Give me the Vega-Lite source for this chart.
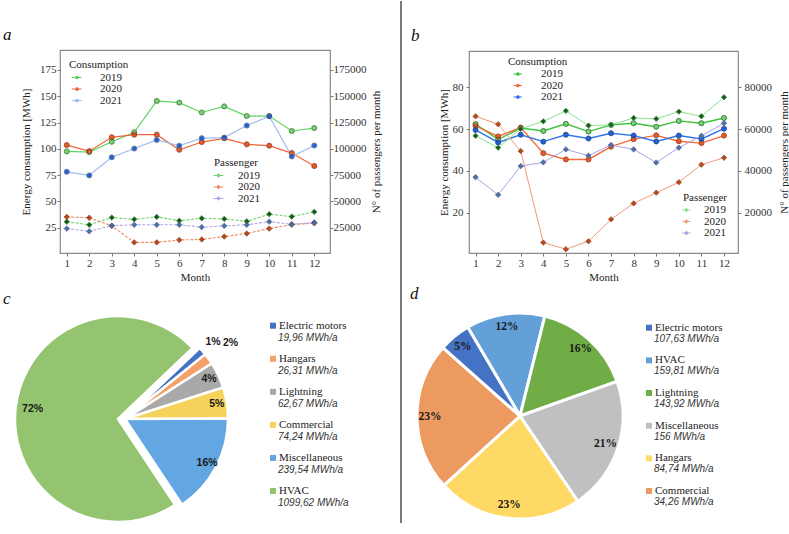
{
  "$schema": "https://vega.github.io/schema/vega-lite/v6.json",
  "background": "white",
  "padding": {"left": 2, "top": 0, "right": 0, "bottom": 0},
  "config": {
    "view": {"stroke": null},
    "font": "Liberation Serif",
    "axis": {"labelFont": "Liberation Serif", "labelFontSize": 11, "labelColor": "#333", "titleFont": "Liberation Serif", "titleFontSize": 11, "titleFontWeight": "normal", "titleColor": "#222", "domain": false, "grid": false, "tickColor": "#777", "tickSize": 3},
    "legend": {"titleFont": "Liberation Serif", "titleFontSize": 11, "titleFontWeight": "normal", "titleColor": "#222", "labelFont": "Liberation Serif", "labelFontSize": 11, "labelColor": "#222", "padding": 0, "rowPadding": -0.5, "titlePadding": 2, "symbolSize": 64, "symbolStrokeWidth": 1.1},
    "title": {"font": "Liberation Serif", "fontSize": 17, "fontStyle": "italic", "fontWeight": "normal", "color": "#111", "anchor": "start", "frame": "group"}
  },
  "datasets": {
    "consA": [
      {"month":1,"year":"2019","mwh":97.6},{"month":2,"year":"2019","mwh":97.0},{"month":3,"year":"2019","mwh":106.8},{"month":4,"year":"2019","mwh":115.8},{"month":5,"year":"2019","mwh":145.6},{"month":6,"year":"2019","mwh":144.0},{"month":7,"year":"2019","mwh":134.6},{"month":8,"year":"2019","mwh":140.4},{"month":9,"year":"2019","mwh":131.2},{"month":10,"year":"2019","mwh":131.2},{"month":11,"year":"2019","mwh":117.0},{"month":12,"year":"2019","mwh":119.8},
      {"month":1,"year":"2020","mwh":103.6},{"month":2,"year":"2020","mwh":97.8},{"month":3,"year":"2020","mwh":111.0},{"month":4,"year":"2020","mwh":113.5},{"month":5,"year":"2020","mwh":113.5},{"month":6,"year":"2020","mwh":99.2},{"month":7,"year":"2020","mwh":106.5},{"month":8,"year":"2020","mwh":110.0},{"month":9,"year":"2020","mwh":104.3},{"month":10,"year":"2020","mwh":103.0},{"month":11,"year":"2020","mwh":96.0},{"month":12,"year":"2020","mwh":83.7},
      {"month":1,"year":"2021","mwh":78.2},{"month":2,"year":"2021","mwh":74.8},{"month":3,"year":"2021","mwh":92.0},{"month":4,"year":"2021","mwh":100.3},{"month":5,"year":"2021","mwh":108.5},{"month":6,"year":"2021","mwh":103.0},{"month":7,"year":"2021","mwh":110.2},{"month":8,"year":"2021","mwh":110.7},{"month":9,"year":"2021","mwh":122.2},{"month":10,"year":"2021","mwh":131.0},{"month":11,"year":"2021","mwh":92.8},{"month":12,"year":"2021","mwh":103.2}
    ],
    "passA": [
      {"month":1,"year":"2019","pax":30700},{"month":2,"year":"2019","pax":27800},{"month":3,"year":"2019","pax":34700},{"month":4,"year":"2019","pax":33000},{"month":5,"year":"2019","pax":35300},{"month":6,"year":"2019","pax":31700},{"month":7,"year":"2019","pax":34000},{"month":8,"year":"2019","pax":33400},{"month":9,"year":"2019","pax":31100},{"month":10,"year":"2019","pax":37900},{"month":11,"year":"2019","pax":35600},{"month":12,"year":"2019","pax":40100},
      {"month":1,"year":"2020","pax":35300},{"month":2,"year":"2020","pax":34500},{"month":3,"year":"2020","pax":26800},{"month":4,"year":"2020","pax":11100},{"month":5,"year":"2020","pax":11100},{"month":6,"year":"2020","pax":13400},{"month":7,"year":"2020","pax":13900},{"month":8,"year":"2020","pax":16600},{"month":9,"year":"2020","pax":19500},{"month":10,"year":"2020","pax":24200},{"month":11,"year":"2020","pax":28000},{"month":12,"year":"2020","pax":29300},
      {"month":1,"year":"2021","pax":24200},{"month":2,"year":"2021","pax":21600},{"month":3,"year":"2021","pax":27000},{"month":4,"year":"2021","pax":27800},{"month":5,"year":"2021","pax":27800},{"month":6,"year":"2021","pax":27800},{"month":7,"year":"2021","pax":25600},{"month":8,"year":"2021","pax":26800},{"month":9,"year":"2021","pax":27800},{"month":10,"year":"2021","pax":30800},{"month":11,"year":"2021","pax":28300},{"month":12,"year":"2021","pax":30000}
    ],
    "consB": [
      {"month":1,"year":"2019","mwh":62.4},{"month":2,"year":"2019","mwh":55.0},{"month":3,"year":"2019","mwh":60.5},{"month":4,"year":"2019","mwh":59.1},{"month":5,"year":"2019","mwh":62.5},{"month":6,"year":"2019","mwh":58.8},{"month":7,"year":"2019","mwh":62.0},{"month":8,"year":"2019","mwh":62.8},{"month":9,"year":"2019","mwh":61.1},{"month":10,"year":"2019","mwh":63.9},{"month":11,"year":"2019","mwh":62.8},{"month":12,"year":"2019","mwh":65.3},
      {"month":1,"year":"2020","mwh":61.5},{"month":2,"year":"2020","mwh":56.5},{"month":3,"year":"2020","mwh":60.7},{"month":4,"year":"2020","mwh":48.5},{"month":5,"year":"2020","mwh":45.5},{"month":6,"year":"2020","mwh":45.5},{"month":7,"year":"2020","mwh":51.6},{"month":8,"year":"2020","mwh":55.2},{"month":9,"year":"2020","mwh":57.0},{"month":10,"year":"2020","mwh":54.2},{"month":11,"year":"2020","mwh":53.3},{"month":12,"year":"2020","mwh":56.9},
      {"month":1,"year":"2021","mwh":59.6},{"month":2,"year":"2021","mwh":53.6},{"month":3,"year":"2021","mwh":57.3},{"month":4,"year":"2021","mwh":54.0},{"month":5,"year":"2021","mwh":57.3},{"month":6,"year":"2021","mwh":55.5},{"month":7,"year":"2021","mwh":58.0},{"month":8,"year":"2021","mwh":56.9},{"month":9,"year":"2021","mwh":54.1},{"month":10,"year":"2021","mwh":56.9},{"month":11,"year":"2021","mwh":55.3},{"month":12,"year":"2021","mwh":60.2}
    ],
    "passB": [
      {"month":1,"year":"2019","pax":56800},{"month":2,"year":"2019","pax":51100},{"month":3,"year":"2019","pax":60100},{"month":4,"year":"2019","pax":63700},{"month":5,"year":"2019","pax":68700},{"month":6,"year":"2019","pax":61700},{"month":7,"year":"2019","pax":62000},{"month":8,"year":"2019","pax":65300},{"month":9,"year":"2019","pax":64900},{"month":10,"year":"2019","pax":68300},{"month":11,"year":"2019","pax":66100},{"month":12,"year":"2019","pax":75200},
      {"month":1,"year":"2020","pax":66100},{"month":2,"year":"2020","pax":62300},{"month":3,"year":"2020","pax":49500},{"month":4,"year":"2020","pax":5800},{"month":5,"year":"2020","pax":2600},{"month":6,"year":"2020","pax":6400},{"month":7,"year":"2020","pax":16900},{"month":8,"year":"2020","pax":24500},{"month":9,"year":"2020","pax":29600},{"month":10,"year":"2020","pax":34600},{"month":11,"year":"2020","pax":43000},{"month":12,"year":"2020","pax":46300},
      {"month":1,"year":"2021","pax":37000},{"month":2,"year":"2021","pax":28600},{"month":3,"year":"2021","pax":42300},{"month":4,"year":"2021","pax":44100},{"month":5,"year":"2021","pax":50300},{"month":6,"year":"2021","pax":47300},{"month":7,"year":"2021","pax":52400},{"month":8,"year":"2021","pax":50300},{"month":9,"year":"2021","pax":44000},{"month":10,"year":"2021","pax":51100},{"month":11,"year":"2021","pax":56800},{"month":12,"year":"2021","pax":62800}
    ],
    "pieC": [
      {"k":1,"category":"Electric motors","value":19.96,"pct":"1%"},
      {"k":2,"category":"Hangars","value":26.31,"pct":"2%"},
      {"k":3,"category":"Lightning","value":62.67,"pct":"4%"},
      {"k":4,"category":"Commercial","value":74.24,"pct":"5%"},
      {"k":5,"category":"Miscellaneous","value":239.54,"pct":"16%"},
      {"k":6,"category":"HVAC","value":1099.62,"pct":"72%"}
    ],
    "legC": [
      {"name":"Electric motors","amount":"19,96 MWh/a"},
      {"name":"Hangars","amount":"26,31 MWh/a"},
      {"name":"Lightning","amount":"62,67 MWh/a"},
      {"name":"Commercial","amount":"74,24 MWh/a"},
      {"name":"Miscellaneous","amount":"239,54 MWh/a"},
      {"name":"HVAC","amount":"1099,62 MWh/a"}
    ],
    "pieD": [
      {"k":1,"category":"HVAC","value":84.74,"pct":"12%"},
      {"k":2,"category":"Lightning","value":107.63,"pct":"16%"},
      {"k":3,"category":"Miscellaneous","value":143.92,"pct":"21%"},
      {"k":4,"category":"Hangars","value":156,"pct":"23%"},
      {"k":5,"category":"Commercial","value":159.81,"pct":"23%"},
      {"k":6,"category":"Electric motors","value":34.26,"pct":"5%"}
    ],
    "legD": [
      {"name":"Electric motors","amount":"107,63 MWh/a"},
      {"name":"HVAC","amount":"159,81 MWh/a"},
      {"name":"Lightning","amount":"143,92 MWh/a"},
      {"name":"Miscellaneous","amount":"156 MWh/a"},
      {"name":"Hangars","amount":"84,74 MWh/a"},
      {"name":"Commercial","amount":"34,26 MWh/a"}
    ]
  },
  "hconcat": [
    {
      "vconcat": [
        {"width": 1, "height": 49, "data": {"values": []}, "mark": "point"},
        {
          "vconcat": [
            {
              "width": 270, "height": 203,
              "view": {"stroke": "#8a8a8a", "strokeWidth": 1.2},
              "title": {"text": "a", "dx": -57, "offset": 6},
              "layer": [
                {
                  "data": {"name": "consA"},
                  "encoding": {
                    "x": {"field": "month", "type": "quantitative", "scale": {"domain": [0.7, 12.7], "nice": false, "zero": false}, "axis": {"values": [1,2,3,4,5,6,7,8,9,10,11,12], "title": "Month", "labelPadding": 1, "titlePadding": 3, "labelFlush": false}},
                    "y": {"field": "mwh", "type": "quantitative", "scale": {"domain": [1, 194], "nice": false, "zero": false}, "axis": {"orient": "left", "values": [25,50,75,100,125,150,175], "title": "Energy consumption [MWh]", "labelPadding": 1, "titlePadding": 8}}
                  },
                  "layer": [
                    {"mark": {"type": "line", "strokeWidth": 1.2}, "encoding": {"stroke": {"field": "year", "type": "nominal", "scale": {"domain": ["2019","2020","2021"], "range": ["#5fd35f","#f0643c","#9bbcf0"]}, "legend": {"title": "Consumption", "orient": "none", "legendX": 9, "legendY": 9, "symbolType": "M-0.625,0H1.75M0.95,0A0.325,0.325,0,1,1,0.3,0A0.325,0.325,0,1,1,0.95,0Z", "labelOffset": 20}}}},
                    {"mark": {"type": "point", "filled": true, "size": 25, "strokeWidth": 0.8, "opacity": 1}, "encoding": {
                      "fill": {"field": "year", "type": "nominal", "scale": {"domain": ["2019","2020","2021"], "range": ["#7ccf7c","#ea5a22","#2060d8"]}, "legend": {"title": "Consumption", "orient": "none", "legendX": 9, "legendY": 9, "symbolType": "M-0.625,0H1.75M0.95,0A0.325,0.325,0,1,1,0.3,0A0.325,0.325,0,1,1,0.95,0Z", "labelOffset": 20}},
                      "stroke": {"field": "year", "type": "nominal", "scale": {"domain": ["2019","2020","2021"], "range": ["#5fd35f","#f0643c","#9bbcf0"]}, "legend": {"title": "Consumption", "orient": "none", "legendX": 9, "legendY": 9, "symbolType": "M-0.625,0H1.75M0.95,0A0.325,0.325,0,1,1,0.3,0A0.325,0.325,0,1,1,0.95,0Z", "labelOffset": 20}}
                    }},
                    {"mark": {"type": "point", "filled": false, "size": 25, "stroke": "#2a2a2a", "strokeWidth": 0.5, "opacity": 0.8}}
                  ]
                },
                {
                  "data": {"name": "passA"},
                  "encoding": {
                    "x": {"field": "month", "type": "quantitative", "scale": {"domain": [0.7, 12.7], "nice": false, "zero": false}, "axis": {"values": [1,2,3,4,5,6,7,8,9,10,11,12], "title": "Month", "labelPadding": 1, "titlePadding": 3, "labelFlush": false}},
                    "y": {"field": "pax", "type": "quantitative", "scale": {"domain": [1000, 194000], "nice": false, "zero": false}, "axis": {"orient": "right", "values": [25000,50000,75000,100000,125000,150000,175000], "format": "d", "title": "N° of passengers per month", "titleAngle": -90, "labelPadding": 0, "titlePadding": 15}}
                  },
                  "layer": [
                    {"mark": {"type": "line", "strokeWidth": 1.1, "strokeDash": [3, 1.5]}, "encoding": {"stroke": {"field": "year", "type": "nominal", "scale": {"domain": ["2019","2020","2021"], "range": ["#74d474","#ee8a60","#b0a8e8"]}, "legend": {"title": "Passenger", "orient": "none", "legendX": 154, "legendY": 107, "symbolType": "M-1.5,0H1M-0.25,-0.375L0.125,0L-0.25,0.375L-0.625,0Z", "labelOffset": 13}}}},
                    {"mark": {"type": "point", "filled": true, "size": 28, "shape": "diamond", "strokeWidth": 0.8, "opacity": 1}, "encoding": {
                      "fill": {"field": "year", "type": "nominal", "scale": {"domain": ["2019","2020","2021"], "range": ["#0c5a0c","#c2410c","#3a76b0"]}, "legend": {"title": "Passenger", "orient": "none", "legendX": 154, "legendY": 107, "symbolType": "M-1.5,0H1M-0.25,-0.375L0.125,0L-0.25,0.375L-0.625,0Z", "labelOffset": 13}},
                      "stroke": {"field": "year", "type": "nominal", "scale": {"domain": ["2019","2020","2021"], "range": ["#74d474","#ee8a60","#b0a8e8"]}, "legend": {"title": "Passenger", "orient": "none", "legendX": 154, "legendY": 107, "symbolType": "M-1.5,0H1M-0.25,-0.375L0.125,0L-0.25,0.375L-0.625,0Z", "labelOffset": 13}}
                    }},
                    {"mark": {"type": "point", "filled": false, "shape": "diamond", "size": 28, "stroke": "#1a1a1a", "strokeWidth": 0.5, "opacity": 0.8}}
                  ]
                }
              ],
              "resolve": {"scale": {"y": "independent", "fill": "independent", "stroke": "independent"}}
            },
            {
              "hconcat": [
                {
                  "width": 130, "height": 204,
                  "title": {"text": "c", "dx": -57, "offset": 3},
                  "data": {"name": "pieC"},
                  "encoding": {
                    "theta": {"field": "value", "type": "quantitative", "stack": true, "scale": {"range": [0.81, 7.093]}},
                    "order": {"field": "k", "type": "quantitative"},
                    "color": {"field": "category", "type": "nominal", "scale": {"domain": ["Electric motors","Hangars","Lightning","Commercial","Miscellaneous","HVAC"], "range": ["#4472c4","#f4a06a","#a9a9a9","#f5d35a","#62a6e2","#94c46f"]}, "legend": null}
                  },
                  "layer": [
                    {"mark": {"type": "arc", "outerRadius": 103, "stroke": "white", "strokeWidth": 2.5}, "encoding": {"opacity": {"condition": {"test": "datum.k == 6", "value": 0}, "value": 1}}},
                    {"mark": {"type": "arc", "outerRadius": 103, "stroke": "white", "strokeWidth": 2.5, "xOffset": -7}, "encoding": {"opacity": {"condition": {"test": "datum.k == 6", "value": 1}, "value": 0}}},
                    {"mark": {"type": "text", "radius": 93, "font": "Liberation Sans", "fontWeight": "bold", "fontSize": 10.5}, "encoding": {"text": {"field": "pct"}, "color": {"value": "#1a1a1a"}, "opacity": {"condition": {"test": "datum.k >= 3", "value": 1}, "value": 0}}},
                    {"transform": [{"filter": "datum.k == 1"}], "mark": {"type": "text", "radius": 117, "font": "Liberation Sans", "fontWeight": "bold", "fontSize": 10.5}, "encoding": {"text": {"field": "pct"}, "color": {"value": "#1a1a1a"}}},
                    {"transform": [{"filter": "datum.k <= 2"}], "mark": {"type": "text", "radius": 130, "font": "Liberation Sans", "fontWeight": "bold", "fontSize": 10.5}, "encoding": {"text": {"field": "pct"}, "color": {"value": "#1a1a1a"}, "opacity": {"condition": {"test": "datum.k == 2", "value": 1}, "value": 0}}}
                  ]
                },
                {
                  "width": 1, "height": 182.7,
                  "data": {"name": "legC"},
                  "encoding": {"y": {"field": "name", "type": "nominal", "sort": null, "scale": {"type": "point", "padding": 0.263}, "axis": null}},
                  "layer": [
                    {"mark": {"type": "square", "size": 36, "opacity": 1, "filled": true}, "encoding": {"color": {"field": "name", "type": "nominal", "scale": {"domain": ["Electric motors","Hangars","Lightning","Commercial","Miscellaneous","HVAC"], "range": ["#4472c4","#f4a06a","#a9a9a9","#f5d35a","#62a6e2","#94c46f"]}, "legend": null}}},
                    {"mark": {"type": "text", "align": "left", "baseline": "middle", "dx": 6, "font": "Liberation Serif", "fontSize": 11, "color": "#222"}, "encoding": {"text": {"field": "name"}}},
                    {"mark": {"type": "text", "align": "left", "baseline": "middle", "dx": 5, "dy": 12, "font": "Liberation Sans", "fontStyle": "italic", "fontSize": 10, "color": "#333"}, "encoding": {"text": {"field": "amount"}}}
                  ]
                }
              ],
              "spacing": 82.5, "bounds": "flush",
              "resolve": {"scale": {"color": "independent", "fill": "independent", "stroke": "independent"}}
            }
          ],
          "spacing": 64, "bounds": "flush",
          "resolve": {"scale": {"color": "independent", "fill": "independent", "stroke": "independent"}}
        }
      ],
      "spacing": 0, "bounds": "flush",
      "resolve": {"scale": {"color": "independent", "fill": "independent", "stroke": "independent"}}
    },
    {
      "width": 280, "height": 522,
      "data": {"values": [{"k": "divider"}]},
      "mark": {"type": "rule", "color": "#222", "strokeWidth": 1.2},
      "encoding": {"x": {"field": "k", "type": "nominal", "axis": null, "scale": {"type": "point", "padding": 0, "align": 0.9875}}}
    },
    {
      "vconcat": [
        {"width": 1, "height": 50, "data": {"values": []}, "mark": "point"},
        {
          "vconcat": [
            {
              "width": 269, "height": 202,
              "view": {"stroke": "#8a8a8a", "strokeWidth": 1.2},
              "title": {"text": "b", "dx": -58, "offset": 6},
              "layer": [
                {
                  "data": {"name": "consB"},
                  "encoding": {
                    "x": {"field": "month", "type": "quantitative", "scale": {"domain": [0.71, 12.62], "nice": false, "zero": false}, "axis": {"values": [1,2,3,4,5,6,7,8,9,10,11,12], "title": "Month", "labelPadding": 1, "titlePadding": 3, "labelFlush": false}},
                    "y": {"field": "mwh", "type": "quantitative", "scale": {"domain": [0.8, 97.3], "nice": false, "zero": false}, "axis": {"orient": "left", "values": [20,40,60,80], "title": "Energy consumption [MWh]", "labelPadding": 3, "titlePadding": 3}}
                  },
                  "layer": [
                    {"mark": {"type": "line", "strokeWidth": 1.4}, "encoding": {"stroke": {"field": "year", "type": "nominal", "scale": {"domain": ["2019","2020","2021"], "range": ["#3cc43c","#f26b3a","#2f74e8"]}, "legend": {"title": "Consumption", "orient": "none", "legendX": 39, "legendY": 4.5, "symbolType": "M0,0H2.1M1.425,0A0.325,0.325,0,1,1,0.775,0A0.325,0.325,0,1,1,1.425,0Z", "labelOffset": 22}}}},
                    {"mark": {"type": "point", "filled": true, "size": 25, "strokeWidth": 0.8, "opacity": 1}, "encoding": {
                      "fill": {"field": "year", "type": "nominal", "scale": {"domain": ["2019","2020","2021"], "range": ["#7ccf7c","#ea5a22","#2060d8"]}, "legend": {"title": "Consumption", "orient": "none", "legendX": 39, "legendY": 4.5, "symbolType": "M0,0H2.1M1.425,0A0.325,0.325,0,1,1,0.775,0A0.325,0.325,0,1,1,1.425,0Z", "labelOffset": 22}},
                      "stroke": {"field": "year", "type": "nominal", "scale": {"domain": ["2019","2020","2021"], "range": ["#3cc43c","#f26b3a","#2f74e8"]}, "legend": {"title": "Consumption", "orient": "none", "legendX": 39, "legendY": 4.5, "symbolType": "M0,0H2.1M1.425,0A0.325,0.325,0,1,1,0.775,0A0.325,0.325,0,1,1,1.425,0Z", "labelOffset": 22}}
                    }},
                    {"mark": {"type": "point", "filled": false, "size": 25, "stroke": "#2a2a2a", "strokeWidth": 0.5, "opacity": 0.8}}
                  ]
                },
                {
                  "data": {"name": "passB"},
                  "encoding": {
                    "x": {"field": "month", "type": "quantitative", "scale": {"domain": [0.71, 12.62], "nice": false, "zero": false}, "axis": {"values": [1,2,3,4,5,6,7,8,9,10,11,12], "title": "Month", "labelPadding": 1, "titlePadding": 3, "labelFlush": false}},
                    "y": {"field": "pax", "type": "quantitative", "scale": {"domain": [800, 97300], "nice": false, "zero": false}, "axis": {"orient": "right", "values": [20000,40000,60000,80000], "format": "d", "title": "N° of passengers per month", "titleAngle": -90, "labelPadding": 3, "titlePadding": 18}}
                  },
                  "layer": [
                    {"mark": {"type": "line", "strokeWidth": 1}, "encoding": {"stroke": {"field": "year", "type": "nominal", "scale": {"domain": ["2019","2020","2021"], "range": ["#8be38b","#f09a78","#a9a3e3"]}, "legend": {"title": "Passenger", "orient": "none", "legendX": 214, "legendY": 140.5, "symbolType": "M-1.54,0H0.46M-0.54,-0.375L-0.165,0L-0.54,0.375L-0.915,0Z", "labelOffset": 10}}}},
                    {"mark": {"type": "point", "filled": true, "size": 28, "shape": "diamond", "strokeWidth": 0.8, "opacity": 1}, "encoding": {
                      "fill": {"field": "year", "type": "nominal", "scale": {"domain": ["2019","2020","2021"], "range": ["#0c5a0c","#c2410c","#3a76b0"]}, "legend": {"title": "Passenger", "orient": "none", "legendX": 214, "legendY": 140.5, "symbolType": "M-1.54,0H0.46M-0.54,-0.375L-0.165,0L-0.54,0.375L-0.915,0Z", "labelOffset": 10}},
                      "stroke": {"field": "year", "type": "nominal", "scale": {"domain": ["2019","2020","2021"], "range": ["#8be38b","#f09a78","#a9a3e3"]}, "legend": {"title": "Passenger", "orient": "none", "legendX": 214, "legendY": 140.5, "symbolType": "M-1.54,0H0.46M-0.54,-0.375L-0.165,0L-0.54,0.375L-0.915,0Z", "labelOffset": 10}}
                    }},
                    {"mark": {"type": "point", "filled": false, "shape": "diamond", "size": 28, "stroke": "#1a1a1a", "strokeWidth": 0.5, "opacity": 0.8}}
                  ]
                }
              ],
              "resolve": {"scale": {"y": "independent", "fill": "independent", "stroke": "independent"}}
            },
            {
              "hconcat": [
                {
                  "width": 102, "height": 206,
                  "title": {"text": "d", "dx": -59, "offset": 4},
                  "data": {"name": "pieD"},
                  "encoding": {
                    "theta": {"field": "value", "type": "quantitative", "stack": true, "scale": {"range": [5.751, 12.034]}},
                    "order": {"field": "k", "type": "quantitative"},
                    "color": {"field": "category", "type": "nominal", "scale": {"domain": ["Electric motors","HVAC","Lightning","Miscellaneous","Hangars","Commercial"], "range": ["#4472c4","#64a0d8","#70ad47","#c0c0c0","#ffd966","#ec9a60"]}, "legend": null}
                  },
                  "layer": [
                    {"mark": {"type": "arc", "outerRadius": 103, "stroke": "white", "strokeWidth": 3}},
                    {"mark": {"type": "text", "radius": 90, "font": "Liberation Serif", "fontWeight": "bold", "fontSize": 11.5}, "encoding": {"text": {"field": "pct"}, "color": {"value": "#1a1a1a"}}}
                  ]
                },
                {
                  "width": 1, "height": 192.7,
                  "data": {"name": "legD"},
                  "encoding": {"y": {"field": "name", "type": "nominal", "sort": null, "scale": {"type": "point", "padding": 0.45}, "axis": null}},
                  "layer": [
                    {"mark": {"type": "square", "size": 36, "opacity": 1, "filled": true}, "encoding": {"color": {"field": "name", "type": "nominal", "scale": {"domain": ["Electric motors","HVAC","Lightning","Miscellaneous","Hangars","Commercial"], "range": ["#4472c4","#64a0d8","#70ad47","#c0c0c0","#ffd966","#ec9a60"]}, "legend": null}}},
                    {"mark": {"type": "text", "align": "left", "baseline": "middle", "dx": 6, "font": "Liberation Serif", "fontSize": 11, "color": "#222"}, "encoding": {"text": {"field": "name"}}},
                    {"mark": {"type": "text", "align": "left", "baseline": "middle", "dx": 5, "dy": 11, "font": "Liberation Sans", "fontStyle": "italic", "fontSize": 10, "color": "#333"}, "encoding": {"text": {"field": "amount"}}}
                  ]
                }
              ],
              "spacing": 77.5, "bounds": "flush",
              "resolve": {"scale": {"color": "independent", "fill": "independent", "stroke": "independent"}}
            }
          ],
          "spacing": 60, "bounds": "flush",
          "resolve": {"scale": {"color": "independent", "fill": "independent", "stroke": "independent"}}
        }
      ],
      "spacing": 0, "bounds": "flush",
      "resolve": {"scale": {"color": "independent", "fill": "independent", "stroke": "independent"}}
    }
  ],
  "spacing": 64.5,
  "bounds": "flush",
  "resolve": {"scale": {"color": "independent", "fill": "independent", "stroke": "independent"}}
}
